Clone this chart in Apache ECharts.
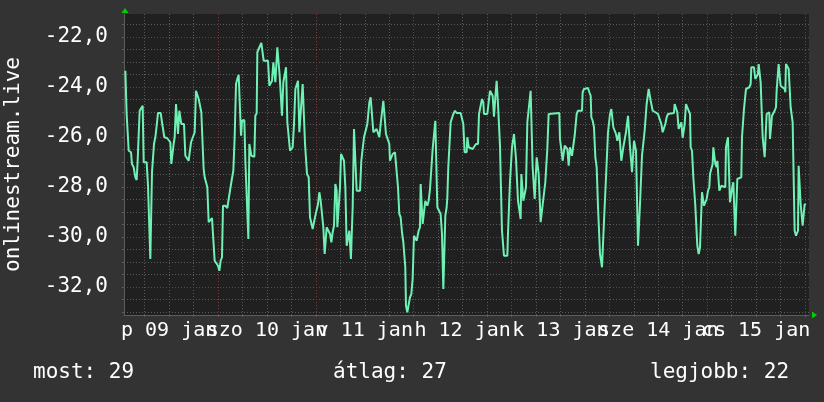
<!DOCTYPE html>
<html><head><meta charset="utf-8">
<script src="https://cdn.jsdelivr.net/npm/echarts@6/dist/echarts.min.js"></script>
<style>html,body{margin:0;padding:0;background:#333333}#c{width:824px;height:402px}</style>
</head><body><div id="c"></div>
<script>
// time in hours since 09 jan 00:00, value
const seg1 = [[1.26,-23.35],[1.58,-25.08],[1.83,-25.15],[2.08,-26.55],[2.65,-26.61],[2.89,-27.08],[3.30,-27.21],[3.71,-27.61],[4.04,-27.72],[4.28,-26.95],[4.53,-26.88],[4.77,-24.95],[5.18,-24.88],[5.51,-24.75],[5.76,-27.01],[6.16,-26.95],[6.49,-27.01],[6.82,-27.95],[7.15,-28.01],[7.39,-30.88],[7.64,-30.88],[7.80,-27.41],[8.13,-27.35],[8.29,-26.28],[8.62,-26.01],[8.86,-25.68],[9.27,-25.04],[9.93,-25.04],[10.25,-25.41],[10.58,-25.48],[10.82,-26.01],[11.48,-26.04],[11.89,-26.08],[12.30,-26.21],[12.54,-27.08],[12.87,-27.08],[13.11,-26.28],[13.36,-26.01],[13.69,-24.68],[13.93,-24.75],[14.18,-25.88],[14.50,-24.95],[14.83,-24.95],[14.99,-25.48],[15.65,-25.48],[15.98,-26.75],[16.47,-26.75],[16.79,-26.95],[17.12,-26.95],[17.37,-26.21],[17.78,-26.15],[18.27,-25.81],[18.59,-24.15],[18.92,-24.15],[19.25,-24.48],[19.57,-24.48],[19.90,-25.01],[20.23,-25.08],[20.47,-27.28],[20.72,-27.61],[21.05,-27.68],[21.37,-28.01],[21.70,-29.41],[22.19,-29.35],[22.52,-29.24],[22.93,-29.24],[23.17,-30.95],[23.50,-31.01],[23.99,-31.15],[24.32,-31.35],[24.64,-30.95],[24.97,-30.81],[25.22,-28.75],[25.79,-28.75],[26.28,-28.84],[26.61,-28.48],[26.93,-28.15],[27.26,-27.81],[27.75,-27.35],[28.08,-26.01],[28.41,-23.88],[28.73,-23.68]];
const seg2 = [[29.06,-23.51],[29.39,-23.55],[29.64,-25.95],[29.88,-25.35],[30.45,-25.32],[30.70,-26.95],[31.03,-27.01],[31.44,-30.08],[31.68,-26.28],[32.01,-26.35],[32.17,-26.75],[32.91,-26.79],[33.15,-25.15],[33.48,-25.05],[33.64,-22.61],[33.97,-22.48],[34.30,-22.41],[34.62,-22.24],[34.95,-22.21],[35.20,-22.95],[36.26,-22.95],[36.59,-23.95],[36.91,-23.95],[37.24,-23.75],[37.57,-23.01],[37.90,-23.01],[38.06,-23.81],[38.39,-23.81],[38.55,-22.41],[38.88,-22.45],[39.12,-23.55],[39.37,-23.61],[39.69,-25.15],[40.02,-23.81],[40.35,-23.75],[40.68,-23.21],[41.00,-25.41],[41.33,-25.48],[41.66,-26.55],[41.98,-26.48],[42.31,-26.41],[42.64,-25.48],[42.97,-24.08],[43.29,-24.08],[43.62,-23.75],[43.95,-25.81],[44.44,-25.81],[44.76,-23.88],[45.09,-23.88],[45.34,-26.28],[45.66,-26.35],[45.83,-27.48],[46.24,-27.61],[46.56,-29.21],[46.89,-29.28],[47.22,-29.68],[47.54,-29.41],[47.87,-29.15],[48.20,-29.21],[48.53,-28.68],[48.85,-28.21],[49.18,-28.55],[49.51,-28.61],[49.83,-29.61],[50.16,-30.68],[50.49,-30.75],[50.65,-29.61],[51.14,-29.61],[51.47,-29.88],[51.80,-30.21],[52.12,-29.81],[52.45,-29.55],[52.78,-27.88],[53.10,-28.15],[53.27,-29.61],[53.60,-29.55],[53.92,-28.01],[54.17,-26.68],[54.58,-26.75],[54.90,-26.95],[55.23,-28.01],[55.56,-30.35],[55.88,-30.35],[56.21,-29.75],[56.60,-30.88],[56.90,-30.88]];
const seg3 = [[57.03,-28.81],[57.36,-25.68],[57.68,-25.68],[58.01,-28.15],[58.83,-28.15],[59.15,-26.95],[59.48,-26.88],[59.81,-26.01],[60.30,-26.01],[60.63,-25.48],[60.95,-25.48],[61.12,-24.61],[61.44,-24.41],[61.77,-24.41],[62.10,-25.81],[62.51,-25.81],[62.91,-25.68],[63.32,-25.68],[63.57,-26.01],[63.90,-25.48],[64.22,-25.55],[64.55,-24.55],[64.88,-24.55],[65.20,-25.88],[65.53,-25.95],[66.02,-26.28],[66.18,-26.95],[66.51,-26.88],[66.84,-26.68],[67.41,-26.61],[67.82,-26.68],[68.15,-28.01],[68.47,-29.08],[68.80,-29.21],[69.13,-29.81],[69.46,-30.21],[69.78,-30.28],[69.94,-31.21],[70.11,-32.75],[70.44,-33.01],[70.76,-33.08],[71.09,-32.41],[71.42,-32.28],[71.74,-31.68],[72.07,-29.95],[72.40,-29.88],[72.73,-30.15],[72.97,-30.15],[73.21,-29.75],[73.54,-29.61],[73.71,-27.88],[74.04,-27.95],[74.20,-29.48],[74.53,-29.41],[74.85,-28.55],[75.18,-28.48],[75.34,-28.75],[75.67,-28.55],[76.00,-28.08],[76.32,-28.15],[76.65,-26.48],[76.98,-26.48],[77.31,-25.35],[77.63,-25.35],[77.80,-28.81],[78.29,-28.81],[78.61,-29.08],[78.94,-29.88],[79.27,-32.08],[79.60,-32.08],[79.76,-29.15],[80.09,-28.81],[80.25,-28.41],[80.49,-27.21],[80.90,-27.15],[81.07,-25.41],[81.39,-25.35],[81.72,-25.08],[82.13,-24.95],[82.54,-25.04],[83.52,-25.04],[83.85,-25.08],[84.17,-25.48],[84.50,-26.61]];
const seg4 = [[85.00,-26.61],[85.16,-26.01],[85.49,-26.41],[86.47,-26.48],[86.96,-26.51],[87.28,-26.28],[87.78,-26.28],[88.02,-25.08],[88.43,-25.01],[88.76,-24.48],[89.08,-24.61],[89.25,-25.08],[90.06,-25.08],[90.39,-24.61],[90.72,-24.15],[91.05,-24.21],[91.37,-24.35],[91.70,-25.19],[92.03,-24.41],[92.35,-23.75],[92.68,-24.68],[93.01,-24.68],[93.17,-26.35],[93.50,-26.41],[93.66,-29.75],[93.99,-29.81],[94.15,-30.75],[94.97,-30.75],[95.13,-29.88],[95.46,-29.88],[95.63,-27.75],[95.95,-27.68],[96.12,-26.41],[96.44,-26.35],[96.61,-25.88],[96.93,-25.88],[97.10,-26.88],[97.42,-26.95],[97.59,-28.55],[97.91,-28.61],[98.24,-29.28],[98.41,-27.48],[98.73,-27.48],[98.90,-28.55],[99.22,-28.48],[99.55,-28.01],[99.88,-25.41],[100.37,-25.41],[100.69,-24.15],[101.02,-24.15],[101.18,-27.21],[101.51,-27.28],[101.68,-28.48],[102.00,-28.48],[102.17,-26.81],[102.49,-26.88],[102.66,-27.48],[102.98,-27.48],[103.15,-29.41],[103.64,-29.41],[103.80,-28.48],[104.13,-28.41],[104.29,-27.81],[104.62,-27.75],[104.78,-26.48],[105.11,-25.08],[107.73,-25.04],[107.89,-26.08],[108.38,-26.15],[108.55,-26.95],[108.87,-26.95],[109.04,-26.35],[109.36,-26.35],[109.69,-26.48],[110.02,-27.15],[110.18,-27.15],[110.34,-26.41],[110.67,-26.41],[110.83,-26.75],[111.16,-26.75],[111.49,-25.95],[111.82,-25.95],[111.98,-25.08],[112.31,-24.95]];
const seg5 = [[112.80,-24.92],[113.29,-24.95],[113.45,-24.21],[113.78,-24.08],[114.76,-24.04],[115.09,-24.21],[115.42,-24.35],[115.58,-25.21],[115.91,-25.35],[116.23,-25.61],[116.56,-26.81],[116.89,-27.21],[117.21,-28.75],[117.54,-28.81],[117.71,-30.68],[118.03,-30.75],[118.20,-31.21],[118.52,-31.28],[118.69,-29.35],[119.01,-29.28],[119.18,-27.61],[119.50,-27.55],[119.67,-25.81],[120.00,-25.75],[120.16,-25.08],[120.49,-24.88],[120.81,-24.88],[120.98,-25.61],[121.30,-25.68],[121.63,-25.88],[121.96,-26.15],[122.29,-26.15],[122.45,-25.81],[122.78,-25.88],[122.94,-26.95],[123.27,-27.01],[123.43,-26.41],[123.76,-26.35],[124.08,-25.81],[124.41,-25.75],[124.58,-25.15],[124.90,-25.08],[125.07,-26.41],[125.39,-26.41],[125.56,-27.41],[125.80,-27.45],[126.05,-26.15],[126.37,-26.15],[126.54,-26.55],[126.86,-26.61],[127.03,-30.35],[127.36,-30.35],[127.52,-28.68],[127.85,-28.61],[128.01,-26.75],[128.50,-26.68],[128.66,-25.75],[128.99,-25.68],[129.15,-24.68],[129.48,-24.61],[129.65,-24.08],[129.97,-24.08],[130.14,-24.55],[130.46,-24.61],[130.63,-24.95],[131.28,-25.01],[131.93,-25.08],[132.26,-25.15],[132.75,-25.48],[133.08,-25.81],[133.41,-25.81],[133.73,-25.48],[134.06,-25.21],[134.39,-25.08],[135.86,-25.04],[136.02,-24.68],[136.35,-24.71],[136.68,-25.01],[137.00,-25.68],[137.33,-25.61],[137.66,-25.41],[137.98,-26.04],[138.31,-26.01],[138.48,-25.48],[138.80,-24.68],[139.13,-24.71],[139.46,-24.95],[139.79,-25.08],[139.95,-26.41],[140.28,-26.55],[140.60,-27.61]];
const seg6 = [[140.93,-27.55],[141.09,-28.75],[141.42,-28.81],[141.58,-30.35],[141.91,-30.68],[142.24,-30.41],[142.56,-30.41],[142.73,-28.21],[143.05,-28.21],[143.22,-28.75],[143.54,-28.68],[143.87,-28.48],[144.20,-28.15],[144.53,-28.01],[144.69,-27.48],[145.02,-27.48],[145.34,-27.08],[145.51,-26.41],[145.83,-26.41],[146.00,-27.08],[146.32,-27.21],[146.49,-26.95],[146.82,-27.01],[146.98,-28.15],[147.31,-28.15],[147.47,-27.95],[148.45,-28.01],[148.61,-26.41],[148.94,-26.41],[149.10,-26.01],[149.43,-26.01],[149.59,-28.61],[149.92,-28.61],[150.08,-28.08],[150.41,-27.81],[150.74,-27.81],[150.90,-29.95],[151.23,-29.95],[151.39,-27.68],[152.37,-27.61],[152.54,-26.01],[152.87,-25.95],[153.03,-24.88],[153.36,-24.88],[153.52,-24.08],[154.01,-24.04],[154.34,-24.01],[154.67,-23.88],[154.83,-23.21],[155.16,-23.15],[155.48,-23.21],[155.81,-23.68],[156.14,-23.68],[156.46,-23.48],[156.63,-23.08],[156.95,-23.08],[157.12,-23.81],[157.44,-23.88],[157.61,-26.01],[157.93,-26.01],[158.10,-26.81],[158.43,-26.81],[158.59,-25.08],[159.24,-25.01],[159.41,-26.08],[159.73,-26.08],[159.90,-25.15],[160.23,-25.08],[160.55,-24.95],[160.88,-24.81],[161.04,-24.15],[161.37,-24.15],[161.53,-23.08],[161.86,-23.08],[162.02,-23.95],[162.35,-24.01],[163.00,-24.08],[163.17,-24.21],[163.33,-23.08],[163.66,-23.08],[163.99,-23.28],[164.31,-23.28],[164.48,-24.81],[164.81,-24.88],[164.97,-25.41],[165.30,-25.41],[165.46,-29.75],[165.79,-29.95],[166.11,-30.01],[166.28,-29.75],[166.44,-27.15],[166.77,-27.15],[166.93,-28.68],[167.26,-28.75],[167.42,-29.55],[167.75,-29.55],[167.91,-28.68],[168.24,-28.71]];

// axis ticks / grid positions
const xLabelHours = [12, 36, 60, 84, 108, 132, 156];            // noon of each day
const dayLabels = ['p 09 jan','szo 10 jan','v 11 jan','h 12 jan','k 13 jan','sze 14 jan','cs 15 jan'];
const xMajorHours = [24, 48, 72, 96, 120, 144, 168];           // midnights
const xMinorHours = [6,12,18, 30,36,42, 54,60,66, 78,84,90, 102,108,114, 126,132,138, 150,156,162];
const yMajorValues = [-32, -30, -28, -26, -24, -22];
const yMinorValues = [-33,-32.5,-31.5,-31,-30.5,-29.5,-29,-28.5,-27.5,-27,-26.5,-25.5,-25,-24.5,-23.5,-23,-22.5,-21.5];
const yAxisTitle = 'onlinestream.live';
const legendTexts = ['most: 29','átlag: 27','legjobb: 22'];

const FONT = 'DejaVu Sans Mono';
const G = {left:124, top:14, width:685, height:301};
const xMin = 0.93, xMax = 168.98;
const yMin = -33.12, yMax = -21.08;
const minorColor = '#5a5a5a', majorColor = '#803838', green = '#00d000';

const chart = echarts.init(document.getElementById('c'), null, {renderer:'canvas'});

const gridLines = (vals, axis, color) => vals.map(v => ({[axis]: v, lineStyle:{color:color, type:[1,2], width:1}}));
const dayLabel = (v) => { const i = xLabelHours.indexOf(Math.round(v)); return i >= 0 ? dayLabels[i] : ''; };
const oddDays = xLabelHours.filter((h, i) => i % 2 === 0);
const evenDays = xLabelHours.filter((h, i) => i % 2 === 1);
const labelStyle = {show:true, showMinLabel:true, showMaxLabel:true, hideOverlap:false, margin:6,
  color:'#ffffff', fontFamily:FONT, fontSize:20, formatter:dayLabel};

chart.setOption({
  backgroundColor:'#333333',
  animation:false,
  grid:{left:G.left, top:G.top, width:G.width, height:G.height, outerBoundsMode:'none', containLabel:false,
        show:true, backgroundColor:'#202020', borderWidth:0},
  xAxis:[{
    type:'value', position:'bottom', min:xMin, max:xMax,
    splitLine:{show:false},
    axisLine:{show:true, lineStyle:{color:'#5c5c5c', width:1}},
    axisTick:{show:true, inside:false, length:2, customValues:xMinorHours.concat(xMajorHours), lineStyle:{color:'#5c5c5c'}},
    axisLabel:Object.assign({customValues:oddDays}, labelStyle)
  },{
    type:'value', position:'bottom', offset:0, min:xMin, max:xMax,
    splitLine:{show:false}, axisLine:{show:false}, axisTick:{show:false},
    axisLabel:Object.assign({customValues:evenDays}, labelStyle)
  }],
  yAxis:[{
    type:'value', min:yMin, max:yMax,
    name:yAxisTitle, nameLocation:'middle', nameRotate:90, nameGap:100, nameMoveOverlap:false,
    nameTextStyle:{color:'#ffffff', fontFamily:FONT, fontSize:21},
    splitLine:{show:false},
    axisLine:{show:true, lineStyle:{color:'#5c5c5c', width:1}},
    axisTick:{show:true, inside:false, length:2, customValues:yMinorValues.concat(yMajorValues), lineStyle:{color:'#5c5c5c'}},
    axisLabel:{show:true, customValues:yMajorValues, showMinLabel:true, showMaxLabel:true, margin:16,
      color:'#ffffff', fontFamily:FONT, fontSize:21,
      formatter:(v)=> v.toFixed(1).replace('.', ',')}
  }],
  series:[
    { type:'line', name:'grid', xAxisIndex:0, yAxisIndex:0, data:[], z:1, silent:true,
      markLine:{ silent:true, symbol:['none','none'], label:{show:false}, animation:false,
        data: gridLines(xMinorHours,'xAxis',minorColor).concat(gridLines(yMinorValues,'yAxis',minorColor),
              gridLines(xMajorHours,'xAxis',majorColor), gridLines(yMajorValues,'yAxis',majorColor)) } },
    { type:'line', name:'onlinestream.live', xAxisIndex:0, yAxisIndex:0, symbol:'none', z:5,
      lineStyle:{color:'#6ff0b4', width:2},
      data: seg1.concat(seg2, seg3, seg4, seg5, seg6) }
  ],
  graphic:[
    {type:'polygon', shape:{points:[[G.left+1,G.top-6],[G.left-2.5,G.top-1],[G.left+4.5,G.top-1]]}, style:{fill:green}},
    {type:'polygon', shape:{points:[[G.left+G.width+3,G.top+G.height-3.5],[G.left+G.width+3,G.top+G.height+3.5],[G.left+G.width+8,G.top+G.height]]}, style:{fill:green}},
    {type:'text', left:33, top:362, style:{text:legendTexts[0], fill:'#ffffff', font:'21px "DejaVu Sans Mono"'}},
    {type:'text', left:333, top:362, style:{text:legendTexts[1], fill:'#ffffff', font:'21px "DejaVu Sans Mono"'}},
    {type:'text', left:650, top:362, style:{text:legendTexts[2], fill:'#ffffff', font:'21px "DejaVu Sans Mono"'}}
  ]
});
</script></body></html>
